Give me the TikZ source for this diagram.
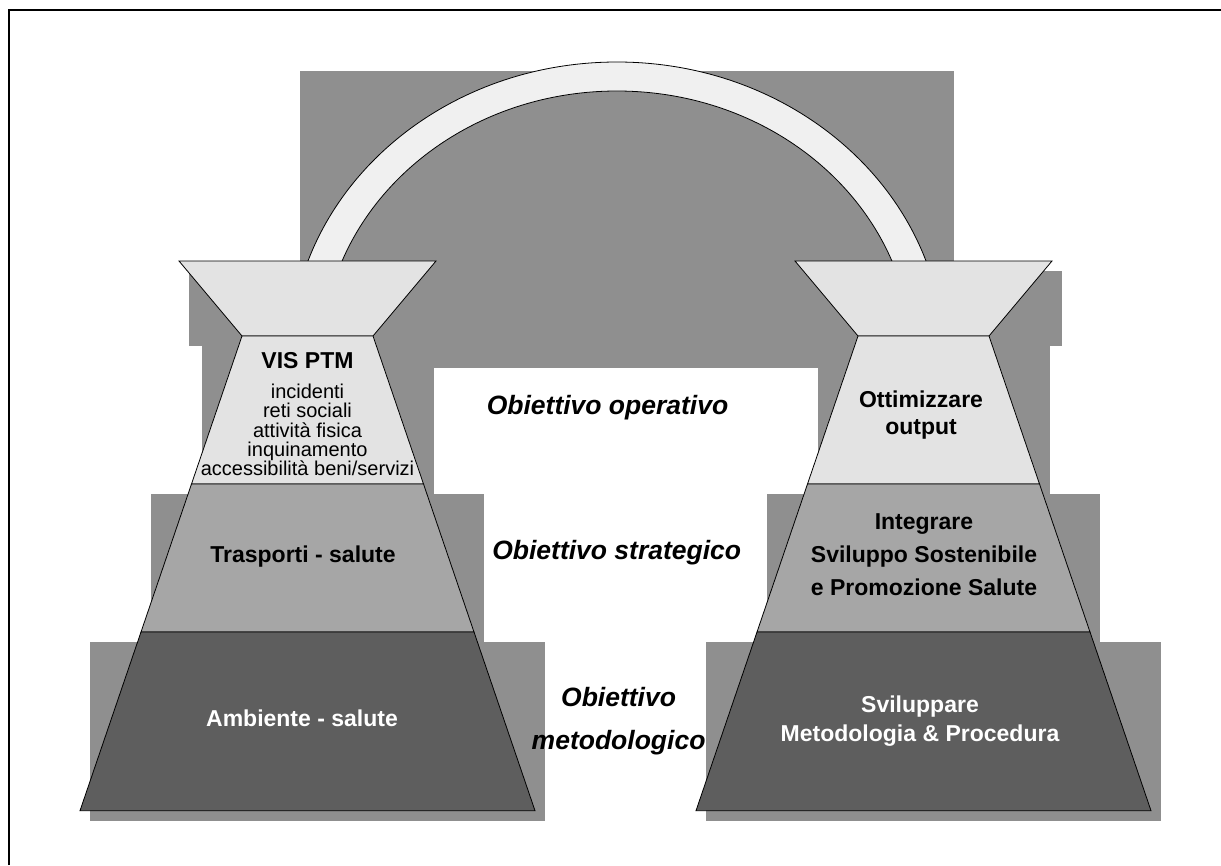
\documentclass[tikz,border=0pt]{standalone}
\usepackage{fontspec}
\setmainfont{Liberation Sans}
\definecolor{shadowgray}{gray}{0.56}
\definecolor{archfill}{gray}{0.94}
\definecolor{tierlight}{gray}{0.89}
\definecolor{tiermid}{gray}{0.65}
\definecolor{tierdark}{gray}{0.37}
\begin{document}
\begin{tikzpicture}[x=1pt, y=-1pt,
    shadow/.style={fill=shadowgray},
    tier/.style={draw=black, line width=0.8pt, line join=miter},
    tierlabel/.style={inner sep=0pt, align=center, font=\bfseries\fontsize{23}{26.5}\selectfont},
    goal/.style={inner sep=0pt, align=center, font=\bfseries\itshape\fontsize{26.5}{42.7}\selectfont}]
    % Page area (1221 x 865 px, 1 unit = 1 px, y pointing down)
    \useasboundingbox (0,0) rectangle (1221,865);

    % Frame, only its top and left sides are visible
    \draw[line width=2pt] (8.5,865) -- (8.5,9.5) -- (1221,9.5);

    % Shadows behind the arch and behind every tier
    \fill[shadow] (300,71) rectangle (954,368);
    \foreach \dx in {0,616} {
        \begin{scope}[xshift=\dx]
            \fill[shadow] (189,271) rectangle (446,346);% funnel
            \fill[shadow] (201.5,346) rectangle (433.5,494);% top tier
            \fill[shadow] (151,494) rectangle (484,642);% middle tier
            \fill[shadow] (90,642) rectangle (545,820.7);% bottom tier
        \end{scope}
    }

    % Arch joining the two towers
    \draw[tier, fill=archfill] (290,358) arc[start angle=180, end angle=360, x radius=327, y radius=296]
        -- (912,358) arc[start angle=360, end angle=180, x radius=295, y radius=267] -- cycle;

    % The two towers: funnel on top of three tiers
    \foreach \dx in {0,616} {
        \begin{scope}[xshift=\dx]
            \draw[tier, fill=tierlight] (179,261) -- (436,261) -- (373,336) -- (242,336) -- cycle;
            \draw[tier, fill=tierlight] (242,336) -- (373,336) -- (423.5,484) -- (191.5,484) -- cycle;
            \draw[tier, fill=tiermid] (191.5,484) -- (423.5,484) -- (474,632) -- (141,632) -- cycle;
            \draw[tier, fill=tierdark] (141,632) -- (474,632) -- (535,810.7) -- (80,810.7) -- cycle;
        \end{scope}
    }

    % Left tower texts
    \node[tierlabel] (vis) at (307.5,361) {VIS PTM};
    \node[inner sep=0pt, align=center, font=\fontsize{20}{19.2}\selectfont] (vislist) at (307.5,430)
        {incidenti\\reti sociali\\attività fisica\\inquinamento\\accessibilità beni/servizi};
    \node[tierlabel] (trasp) at (303,557) {Trasporti - salute};
    \node[tierlabel, text=white] (amb) at (302,718) {Ambiente - salute};

    % Right tower texts
    \node[tierlabel] (ottim) at (921,415) {Ottimizzare\\output};
    \node[tierlabel, font=\bfseries\fontsize{23}{33}\selectfont] (integ) at (924,555)
        {Integrare\\Sviluppo Sostenibile\\e Promozione Salute};
    \node[tierlabel, text=white, font=\bfseries\fontsize{23}{29.5}\selectfont] (svil) at (920,721)
        {Sviluppare\\Metodologia \& Procedura};

    % Objectives between the towers
    \node[goal] (gopera) at (607.5,408) {Obiettivo operativo};
    \node[goal] (gstrat) at (616.7,553) {Obiettivo strategico};
    \node[goal] (gmetod) at (618.6,721) {Obiettivo\\metodologico};
\end{tikzpicture}
\end{document}
